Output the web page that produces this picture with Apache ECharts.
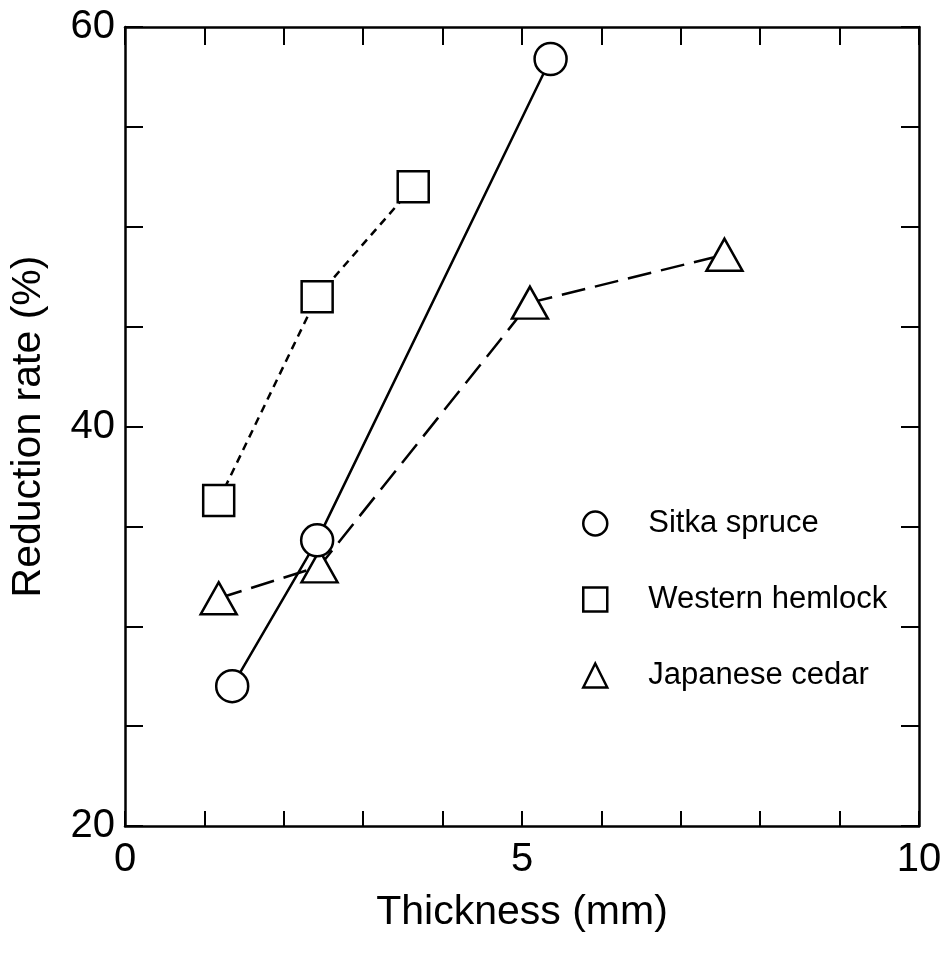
<!DOCTYPE html>
<html>
<head>
<meta charset="utf-8">
<script src="https://cdn.jsdelivr.net/npm/echarts@6/dist/echarts.min.js"></script>
<style>
  html, body { margin: 0; padding: 0; background: #fff; }
  #chart { width: 950px; height: 956px; }
</style>
</head>
<body>
<div id="chart"></div>
<script>
// values
var sitkaX = [1.35, 2.42, 5.36];
var sitkaY = [27.0, 34.3, 58.4];

var hemlockX = [1.18, 2.42, 3.63];
var hemlockY = [36.3, 46.5, 52.0];

var cedarX = [1.18, 2.45, 5.1, 7.55];
var cedarY = [31.4, 33.0, 46.2, 48.6];

var seriesNames = ['Sitka spruce', 'Western hemlock', 'Japanese cedar'];
var xLabels = [0, 5, 10];
var yLabels = [20, 40, 60];

function pairs(xs, ys){
    var out = []
    for(let i=0;i<xs.length;i++){
        out.push([xs[i], ys[i]])
    }
    return out
}

var axisFont = 'Liberation Sans Narrow, Liberation Sans, Arial, sans-serif';
var markStyle = { color: '#fff', borderColor: '#000', borderWidth: 2.5 };
var frameLine = { onZero: false, lineStyle: { color: '#000', width: 2.5 } };
var frameTick = { inside: true, length: 18, lineStyle: { color: '#000', width: 2 } };

option = {
    animation: false,
    backgroundColor: '#fff',
    grid: { left: 121, right: 31, top: 27, bottom: 130 },
    legend: {
        orient: 'vertical',
        left: 577,
        top: 503,
        itemGap: 45,
        itemWidth: 24,
        itemHeight: 24,
        textStyle: { fontSize: 31, color: '#000', fontFamily: 'Liberation Sans, Arial, sans-serif', padding: [0, 0, 0, 36] },
        data: [
            { name: seriesNames[0], icon: 'circle', itemStyle: markStyle },
            { name: seriesNames[1], icon: 'rect', itemStyle: markStyle },
            { name: seriesNames[2], icon: 'triangle', itemStyle: markStyle }
        ]
    },
    xAxis: [
        {
            type: 'value', min: 0, max: 10, interval: 1, position: 'bottom',
            name: 'Thickness (mm)', nameLocation: 'middle', nameGap: 66,
            nameTextStyle: { fontSize: 41, color: '#000', fontFamily: axisFont },
            axisLine: frameLine,
            axisTick: { inside: true, length: 15, lineStyle: { color: '#000', width: 2 } },
            axisLabel: {
                fontSize: 40, color: '#000', fontFamily: axisFont, margin: 14,
                formatter: function(v){ return xLabels.indexOf(v) >= 0 ? String(v) : '' }
            },
            splitLine: { show: false }
        },
        {
            type: 'value', min: 0, max: 10, interval: 1, position: 'top',
            axisLine: frameLine,
            axisTick: frameTick,
            axisLabel: { show: false },
            splitLine: { show: false }
        }
    ],
    yAxis: [
        {
            type: 'value', min: 20, max: 60, interval: 5, position: 'left',
            name: 'Reduction rate (%)', nameLocation: 'middle', nameGap: 76,
            nameTextStyle: { fontSize: 41, color: '#000', fontFamily: axisFont },
            axisLine: frameLine,
            axisTick: frameTick,
            axisLabel: {
                fontSize: 40, color: '#000', fontFamily: axisFont, margin: 10,
                formatter: function(v){ return yLabels.indexOf(v) >= 0 ? String(v) : '' }
            },
            splitLine: { show: false }
        },
        {
            type: 'value', min: 20, max: 60, interval: 5, position: 'right',
            axisLine: frameLine,
            axisTick: frameTick,
            axisLabel: { show: false },
            splitLine: { show: false }
        }
    ],
    series: [
        {
            name: seriesNames[0], type: 'line',
            data: pairs(sitkaX, sitkaY),
            symbol: 'circle', symbolSize: 32,
            itemStyle: markStyle,
            lineStyle: { color: '#000', width: 2.5, type: 'solid' },
            z: 3
        },
        {
            name: seriesNames[1], type: 'line',
            data: pairs(hemlockX, hemlockY),
            symbol: 'rect', symbolSize: 31,
            itemStyle: markStyle,
            lineStyle: { color: '#000', width: 2.5, type: [8, 6] },
            z: 2
        },
        {
            name: seriesNames[2], type: 'line',
            data: pairs(cedarX, cedarY),
            symbol: 'triangle', symbolSize: [36, 32],
            itemStyle: markStyle,
            lineStyle: { color: '#000', width: 2.5, type: [24, 10] },
            z: 2
        }
    ]
};

var myChart = echarts.init(document.getElementById('chart'));
myChart.setOption(option);
</script>
</body>
</html>
